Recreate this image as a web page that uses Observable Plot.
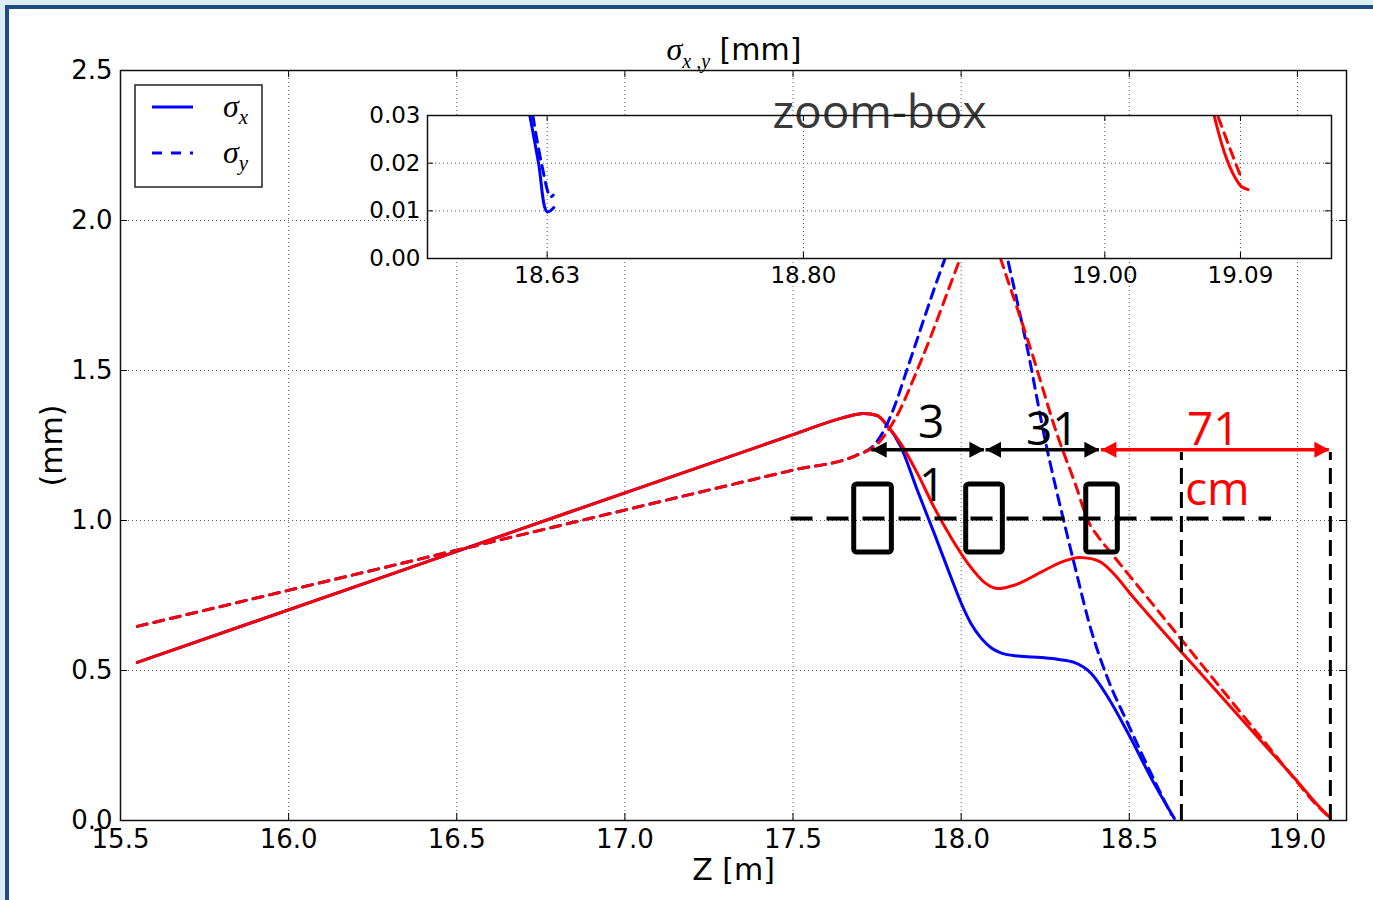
<!DOCTYPE html>
<html>
<head>
<meta charset="utf-8">
<script src="https://cdn.jsdelivr.net/npm/d3@7"></script>
<script src="https://cdn.jsdelivr.net/npm/@observablehq/plot@0.6"></script>
<style>
  html, body { margin: 0; padding: 0; }
  body { width: 1373px; height: 900px; overflow: hidden; position: relative; background: #dcedf4; font-family: "DejaVu Sans", sans-serif; }
  #page { position: absolute; left: 5px; top: 5px; width: 1420px; height: 940px; border: 4px solid #1f4e86; background: #ffffff; }
  #main { position: absolute; left: 0; top: 0; }
  #inset { position: absolute; left: 357px; top: 85px; }
  #overlay { position: absolute; left: 0; top: 0; }
</style>
</head>
<body>
<div id="page"></div>
<div id="main"></div>
<div id="inset"></div>
<svg id="overlay" width="1373" height="900"></svg>
<script>
// ---------------- data ----------------
// beam A (blue): sigma_x solid, sigma_y dashed
const zSigXA = [15.55, 16.5, 17.5, 17.65, 17.71, 17.75, 17.78, 17.82, 17.87, 17.92, 17.97, 18.0, 18.03, 18.06, 18.09, 18.12, 18.17, 18.238, 18.29, 18.336, 18.387, 18.437, 18.497, 18.574, 18.634];
const sigXA  = [0.527, 0.897, 1.286, 1.343, 1.357, 1.35, 1.317, 1.247, 1.10, 0.957, 0.81, 0.725, 0.655, 0.607, 0.575, 0.558, 0.548, 0.543, 0.537, 0.527, 0.49, 0.41, 0.29, 0.123, 0.007];
const zSigYA = [15.55, 16.5, 17.5, 17.69, 17.74, 17.77, 17.801, 17.841, 17.95, 18.07, 18.139, 18.198, 18.248, 18.312, 18.336, 18.387, 18.437, 18.497, 18.574, 18.625];
const sigYA  = [0.647, 0.901, 1.168, 1.218, 1.25, 1.30, 1.378, 1.51, 1.867, 2.2, 1.867, 1.567, 1.278, 0.967, 0.857, 0.633, 0.47, 0.32, 0.135, 0.02];
// beam B (red): sigma_x solid, sigma_y dashed
const zSigXB = [15.55, 16.5, 17.5, 17.65, 17.71, 17.75, 17.78, 17.82, 17.87, 17.92, 17.97, 18.02, 18.07, 18.11, 18.16, 18.238, 18.3, 18.351, 18.39, 18.417, 18.46, 18.5, 18.55, 18.655, 18.714, 18.9, 19.0, 19.06, 19.095];
const sigXB  = [0.527, 0.897, 1.286, 1.343, 1.357, 1.35, 1.317, 1.257, 1.157, 1.043, 0.943, 0.857, 0.793, 0.773, 0.785, 0.828, 0.862, 0.877, 0.872, 0.86, 0.815, 0.76, 0.695, 0.562, 0.488, 0.255, 0.13, 0.052, 0.012];
const zSigYB = [15.55, 16.5, 17.5, 17.69, 17.752, 17.801, 17.881, 17.995, 18.062, 18.119, 18.208, 18.288, 18.34, 18.377, 18.408, 18.44, 18.5, 18.6, 18.705, 18.9, 19.0, 19.05, 19.09];
const sigYB  = [0.647, 0.901, 1.168, 1.218, 1.256, 1.333, 1.533, 1.867, 2.06, 1.867, 1.567, 1.278, 1.12, 1.0, 0.945, 0.9, 0.817, 0.679, 0.534, 0.265, 0.127, 0.06, 0.016];

// zoom-box (inset) values
const insetZSigXA = [18.6185, 18.6243, 18.6300, 18.6344];
const insetSigXA  = [0.0300, 0.0200, 0.0098, 0.0107];
const insetZSigYA = [18.6205, 18.6262, 18.6322, 18.6340];
const insetSigYA  = [0.0300, 0.0200, 0.0129, 0.0133];
const insetZSigXB = [19.0725, 19.0796, 19.0862, 19.0906, 19.0951];
const insetSigXB  = [0.0300, 0.0220, 0.0171, 0.0151, 0.01445];
const insetZSigYB = [19.0752, 19.0818, 19.0906];
const insetSigYB  = [0.0297, 0.0241, 0.0168];

// ticks
const xTicks = [15.5, 16.0, 16.5, 17.0, 17.5, 18.0, 18.5, 19.0];
const yTicks = [0.0, 0.5, 1.0, 1.5, 2.0, 2.5];
const insetXTicks = [18.63, 18.80, 19.00, 19.09];
const insetYTicks = [0.00, 0.01, 0.02, 0.03];

// beamline sketch (quadrupoles, distances)
const magnetStart = [17.682, 18.015, 18.372];
const magnetEnd   = [17.794, 18.124, 18.466];
const magnetTop = 1.12, magnetBottom = 0.893;
const beamAxisLevel = 1.007, beamAxisFrom = 17.494, beamAxisTo = 18.923;
const arrowFrom  = [17.734, 18.074, 18.417];
const arrowTo    = [18.069, 18.411, 19.095];
const arrowColor = ["black", "black", "red"];
const arrowLevel = 1.236;
const dropZ = [18.655, 19.098];
const dropTop = 1.227;
const annoText  = ["3", "1", "31", "71", "cm"];
const annoZ     = [17.911, 17.914, 18.271, 18.75, 18.762];
const annoV     = [1.323, 1.113, 1.30, 1.30, 1.10];
const annoColor = ["black", "black", "black", "red", "red"];

const legendSub = ["x", "y"];
const legendDash = [null, "10,9"];

// ---------------- helpers ----------------
const table = (zs, vs) => zs.map((z, i) => ({z, v: vs[i]}));
const BLUE = "#0000ff", RED = "#ff0000";
const lw = 3, dash = "10,7", curve = "monotone-x";
const gridStyle = {stroke: "#555", strokeWidth: 1, strokeDasharray: "1,3"};

const arrows = arrowFrom.map((a, i) => ({a, b: arrowTo[i], c: arrowColor[i]}));
const magnets = magnetStart.map((a, i) => ({a, b: magnetEnd[i]}));
const annos = annoText.map((t, i) => ({t, z: annoZ[i], v: annoV[i], c: annoColor[i]}));

const headRight = {draw(ctx) { ctx.moveTo(0, 0); ctx.lineTo(-15, -8); ctx.lineTo(-15, 8); ctx.closePath(); }};
const headLeft  = {draw(ctx) { ctx.moveTo(0, 0); ctx.lineTo(15, -8); ctx.lineTo(15, 8); ctx.closePath(); }};

// ---------------- main chart ----------------
const W = 1373, H = 900, mL = 120, mR = 27, mT = 70, mB = 80;
const pW = W - mL - mR, pH = H - mT - mB;

const main = Plot.plot({
  width: W, height: H,
  marginLeft: mL, marginRight: mR, marginTop: mT, marginBottom: mB,
  style: {background: "transparent", fontFamily: "DejaVu Sans", fontSize: "26px", color: "#000", overflow: "visible"},
  x: {domain: [15.5, 19.146], ticks: xTicks, tickFormat: d3.format(".1f"), tickSize: 0, tickPadding: 9, label: null},
  y: {domain: [0, 2.5], ticks: yTicks, tickFormat: d3.format(".1f"), tickSize: 0, tickPadding: 8, label: null},
  marks: [
    Plot.ruleX(xTicks.slice(1), {x: d => d, ...gridStyle}),
    Plot.ruleY(yTicks.slice(1, -1), {y: d => d, ...gridStyle}),
    Plot.line(table(zSigXA, sigXA), {x: "z", y: "v", stroke: BLUE, strokeWidth: lw, curve}),
    Plot.line(table(zSigXB, sigXB), {x: "z", y: "v", stroke: RED, strokeWidth: lw, curve}),
    Plot.line(table(zSigYA, sigYA), {x: "z", y: "v", stroke: BLUE, strokeWidth: lw, strokeDasharray: dash, curve}),
    Plot.line(table(zSigYB, sigYB), {x: "z", y: "v", stroke: RED, strokeWidth: lw, strokeDasharray: dash, curve}),
    // beamline sketch
    Plot.ruleY([beamAxisLevel], {y: d => d, x1: beamAxisFrom, x2: beamAxisTo, stroke: "#000", strokeWidth: 4, strokeDasharray: "22,14"}),
    Plot.rect(magnets, {x1: "a", x2: "b", y1: magnetBottom, y2: magnetTop, fill: "none", stroke: "#000", strokeWidth: 5, rx: 3}),
    Plot.ruleX(dropZ, {x: d => d, y1: 0, y2: dropTop, stroke: "#000", strokeWidth: 3, strokeDasharray: "16,8"}),
    Plot.ruleY(arrows, {y: arrowLevel, x1: "a", x2: "b", stroke: d => d.c === "red" ? RED : "#000", strokeWidth: 3.5}),
    Plot.dot(arrows, {x: "a", y: arrowLevel, symbol: headLeft, fill: d => d.c === "red" ? RED : "#000", stroke: "none"}),
    Plot.dot(arrows, {x: "b", y: arrowLevel, symbol: headRight, fill: d => d.c === "red" ? RED : "#000", stroke: "none"}),
    Plot.text(annos, {x: "z", y: "v", text: "t", fill: d => d.c === "red" ? RED : "#000", fontFamily: "Open Sans", fontSize: 46, lineAnchor: "middle"}),
    // inward ticks
    Plot.tickX(xTicks, {x: d => d, insetTop: pH - 7, stroke: "#000"}),
    Plot.tickX(xTicks, {x: d => d, insetBottom: pH - 7, stroke: "#000"}),
    Plot.tickY(yTicks, {y: d => d, insetRight: pW - 7, stroke: "#000"}),
    Plot.tickY(yTicks, {y: d => d, insetLeft: pW - 7, stroke: "#000"}),
    Plot.frame({stroke: "#111", strokeWidth: 1.5}),
    // axis titles
    Plot.text(["Z [m]"], {text: d => d, frameAnchor: "bottom", dy: 50, fontSize: 30, lineAnchor: "middle", textAnchor: "middle"}),
    Plot.text(["(mm)"], {text: d => d, frameAnchor: "left", dx: -68, rotate: -90, fontSize: 30, lineAnchor: "middle", textAnchor: "middle"})
  ]
});
document.getElementById("main").appendChild(main);

// ---------------- zoom-box inset ----------------
const iL = 70, iR = 10, iT = 30, iB = 40, iW = 904, iH = 143;
const inset = Plot.plot({
  width: iW + iL + iR, height: iH + iT + iB,
  marginLeft: iL, marginRight: iR, marginTop: iT, marginBottom: iB,
  style: {background: "transparent", fontFamily: "DejaVu Sans", fontSize: "23px", color: "#000", overflow: "visible"},
  x: {domain: [18.5506, 19.1504], ticks: insetXTicks, tickFormat: d3.format(".2f"), tickSize: 0, tickPadding: 8, label: null},
  y: {domain: [0, 0.03], ticks: insetYTicks, tickFormat: d3.format(".2f"), tickSize: 0, tickPadding: 7, label: null},
  marks: [
    Plot.frame({fill: "#fff", stroke: "none"}),
    Plot.ruleX(insetXTicks, {x: d => d, ...gridStyle}),
    Plot.ruleY(insetYTicks.slice(1, -1), {y: d => d, ...gridStyle}),
    Plot.line(table(insetZSigXA, insetSigXA), {x: "z", y: "v", stroke: BLUE, strokeWidth: lw, curve: "catmull-rom", clip: true}),
    Plot.line(table(insetZSigXB, insetSigXB), {x: "z", y: "v", stroke: RED, strokeWidth: lw, curve: "catmull-rom", clip: true}),
    Plot.line(table(insetZSigYA, insetSigYA), {x: "z", y: "v", stroke: BLUE, strokeWidth: lw, strokeDasharray: dash, curve: "catmull-rom", clip: true}),
    Plot.line(table(insetZSigYB, insetSigYB), {x: "z", y: "v", stroke: RED, strokeWidth: lw, strokeDasharray: dash, curve: "catmull-rom", clip: true}),
    Plot.text(["zoom-box"], {text: d => d, frameAnchor: "top", dy: 12, lineAnchor: "bottom", fontFamily: "Open Sans", fontSize: 46, fill: "#3a3a3a"}),
    Plot.tickX(insetXTicks, {x: d => d, insetTop: iH - 6, stroke: "#000"}),
    Plot.tickX(insetXTicks, {x: d => d, insetBottom: iH - 6, stroke: "#000"}),
    Plot.tickY(insetYTicks, {y: d => d, insetRight: iW - 6, stroke: "#000"}),
    Plot.tickY(insetYTicks, {y: d => d, insetLeft: iW - 6, stroke: "#000"}),
    Plot.frame({stroke: "#111", strokeWidth: 1.5})
  ]
});
document.getElementById("inset").appendChild(inset);

// ---------------- title and legend ----------------
const ov = d3.select("#overlay");
const title = ov.append("text").attr("x", 734).attr("y", 60).attr("text-anchor", "middle")
  .attr("font-family", "DejaVu Sans").attr("font-size", 30);
title.append("tspan").attr("font-family", "Liberation Serif").attr("font-style", "italic").attr("font-size", 32).text("σ");
title.append("tspan").attr("font-family", "Liberation Serif").attr("font-style", "italic").attr("font-size", 20).attr("dy", 8).text("x ,y");
title.append("tspan").attr("dy", -8).text(" [mm]");

const lg = ov.append("g");
lg.append("rect").attr("x", 135).attr("y", 85).attr("width", 127).attr("height", 102)
  .attr("fill", "#fff").attr("stroke", "#222").attr("stroke-width", 1.5);
legendSub.forEach((s, i) => {
  const cy = 107 + i * 46;
  lg.append("line").attr("x1", 152).attr("x2", 193).attr("y1", cy).attr("y2", cy)
    .attr("stroke", BLUE).attr("stroke-width", 3).attr("stroke-dasharray", legendDash[i]);
  const t = lg.append("text").attr("x", 223).attr("y", cy + 10).attr("font-family", "Liberation Serif").attr("font-style", "italic");
  t.append("tspan").attr("font-size", 32).text("σ");
  t.append("tspan").attr("font-size", 21).attr("dy", 7).text(s);
});
</script>
</body>
</html>
